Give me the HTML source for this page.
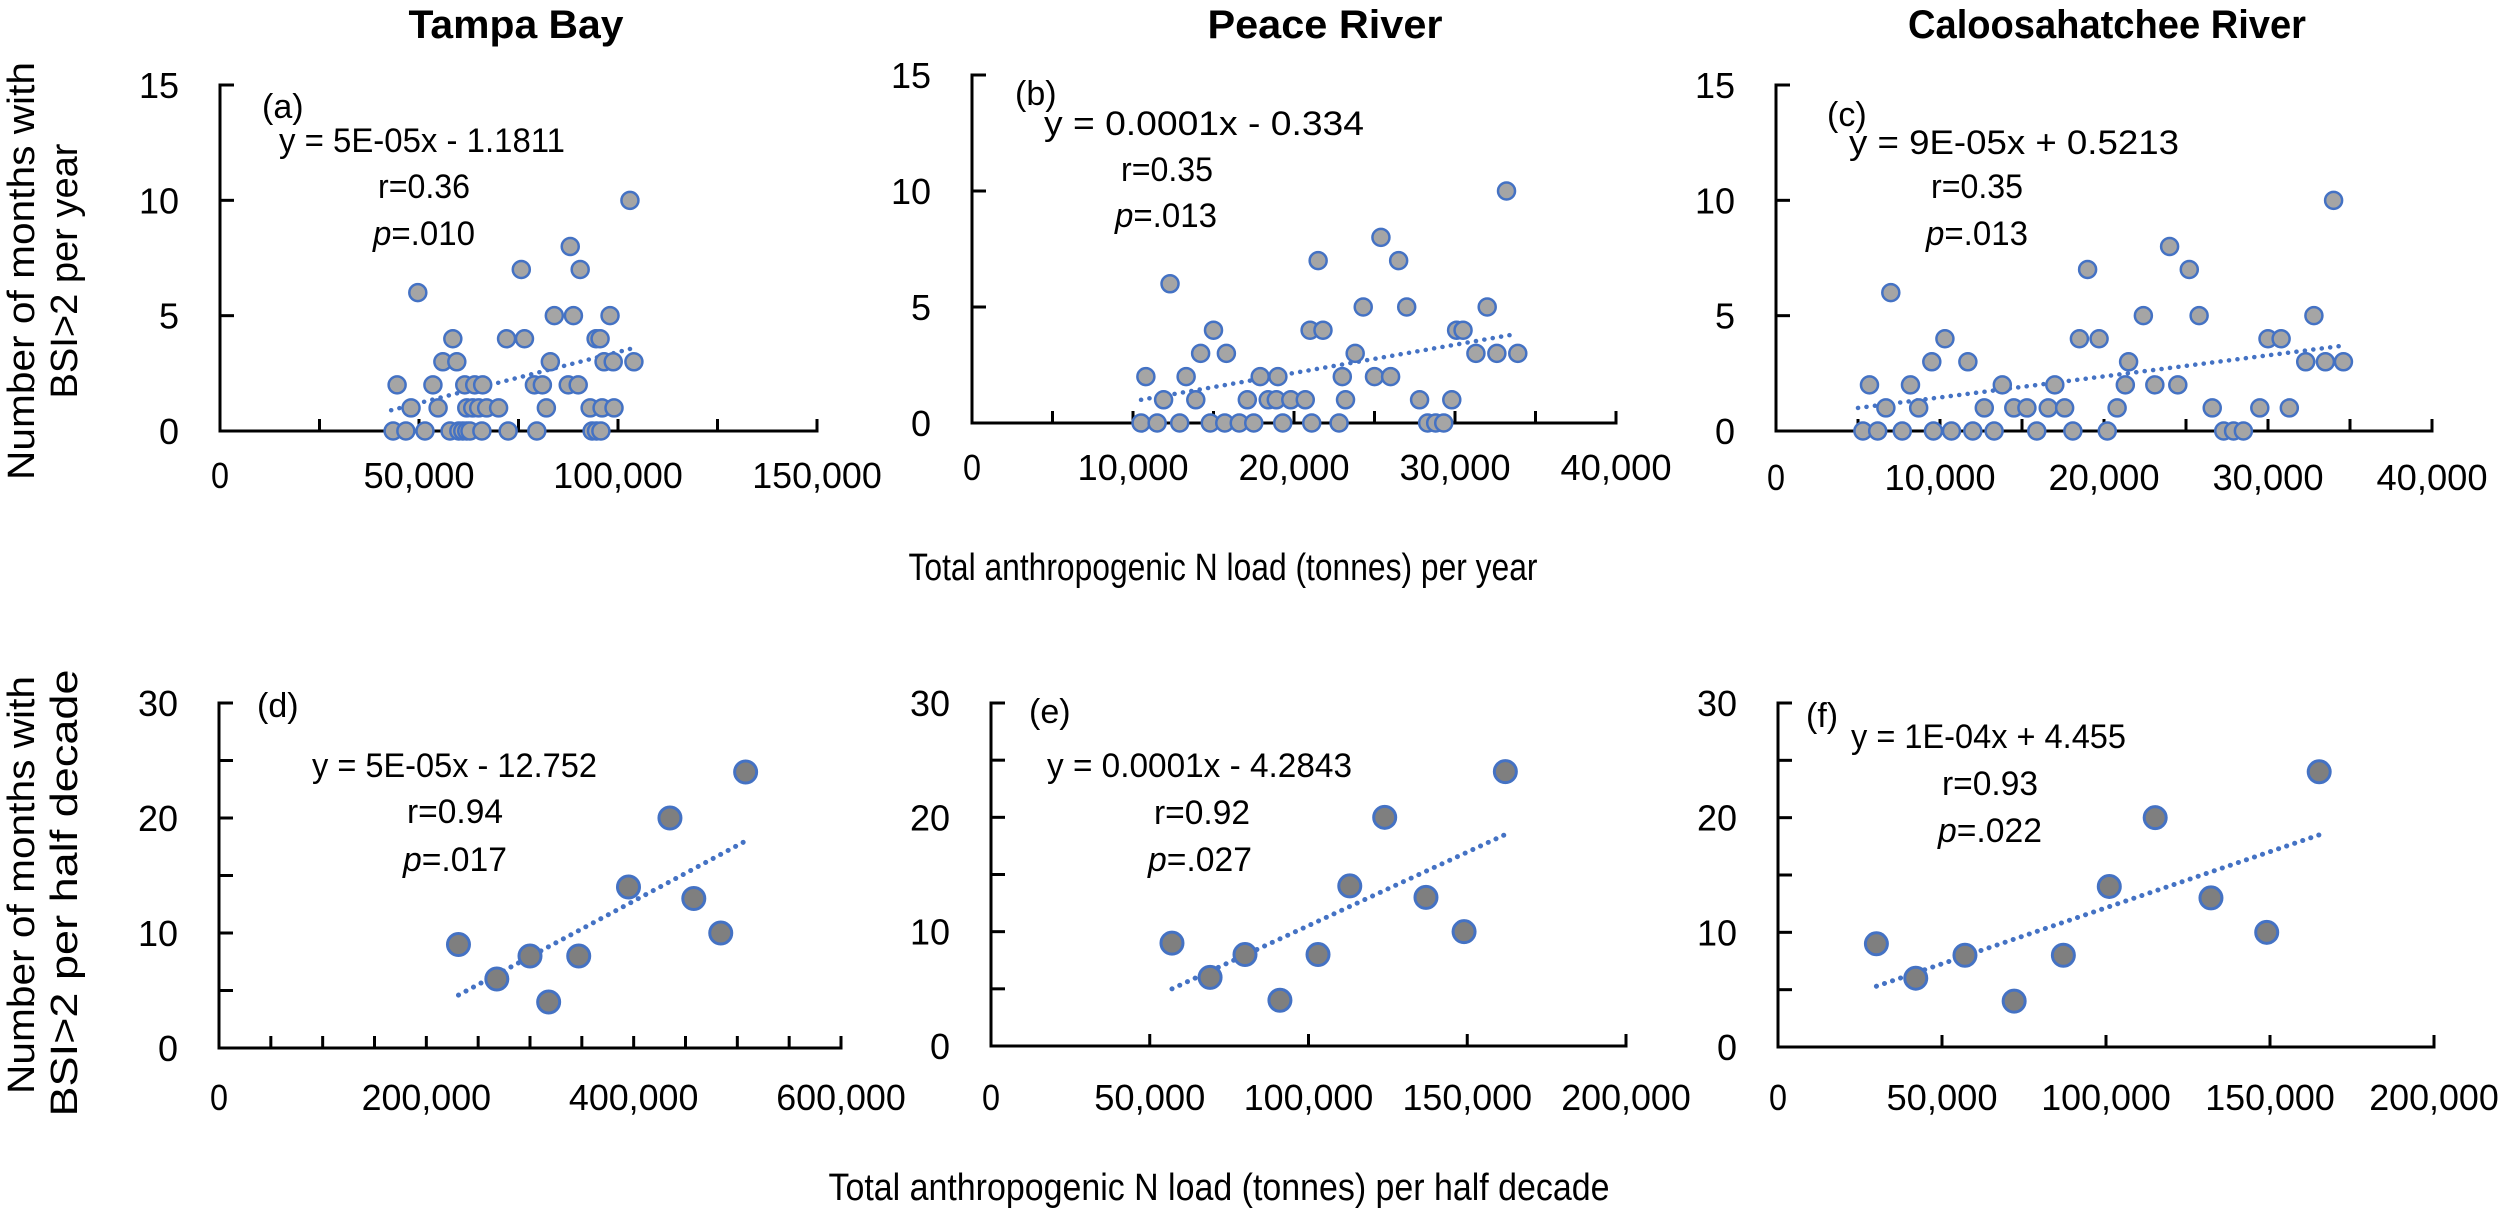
<!DOCTYPE html>
<html><head><meta charset="utf-8"><style>
html,body{margin:0;padding:0;background:#fff;}
svg{display:block;}
text{font-family:"Liberation Sans",sans-serif;fill:#000;}
</style></head><body>
<svg id="s" width="2500" height="1208" viewBox="0 0 2500 1208" xmlns="http://www.w3.org/2000/svg">
<rect width="2500" height="1208" fill="#fff"/>
<text x="516" y="38" font-size="40" font-weight="bold" text-anchor="middle" textLength="215" lengthAdjust="spacingAndGlyphs">Tampa Bay</text>
<text x="1325" y="38" font-size="40" font-weight="bold" text-anchor="middle" textLength="235" lengthAdjust="spacingAndGlyphs">Peace River</text>
<text x="2107" y="38" font-size="40" font-weight="bold" text-anchor="middle" textLength="398" lengthAdjust="spacingAndGlyphs">Caloosahatchee River</text>

<text transform="translate(34,271) rotate(-90)" font-size="38" text-anchor="middle" textLength="418" lengthAdjust="spacingAndGlyphs">Number of months with</text>
<text transform="translate(77,271) rotate(-90)" font-size="38" text-anchor="middle" textLength="255" lengthAdjust="spacingAndGlyphs">BSI&gt;2 per year</text>
<text transform="translate(34,885) rotate(-90)" font-size="38" text-anchor="middle" textLength="418" lengthAdjust="spacingAndGlyphs">Number of months with</text>
<text transform="translate(77,893) rotate(-90)" font-size="38" text-anchor="middle" textLength="447" lengthAdjust="spacingAndGlyphs">BSI&gt;2 per half decade</text>

<text x="1223" y="580" font-size="38" text-anchor="middle" textLength="629" lengthAdjust="spacingAndGlyphs">Total anthropogenic N load (tonnes) per year</text>
<text x="1219" y="1200" font-size="38" text-anchor="middle" textLength="781" lengthAdjust="spacingAndGlyphs">Total anthropogenic N load (tonnes) per half decade</text>

<g font-size="34">
<text x="262" y="118">(a)</text>
<text x="279" y="152" textLength="286" lengthAdjust="spacingAndGlyphs">y = 5E-05x - 1.1811</text>
<text x="424" y="198" text-anchor="middle" textLength="92" lengthAdjust="spacingAndGlyphs">r=0.36</text>
<text x="424" y="245" text-anchor="middle" textLength="102" lengthAdjust="spacingAndGlyphs"><tspan font-style="italic">p</tspan>=.010</text>

<text x="1015" y="105">(b)</text>
<text x="1044" y="135" textLength="320" lengthAdjust="spacingAndGlyphs">y = 0.0001x - 0.334</text>
<text x="1167" y="181" text-anchor="middle" textLength="92" lengthAdjust="spacingAndGlyphs">r=0.35</text>
<text x="1166" y="227" text-anchor="middle" textLength="102" lengthAdjust="spacingAndGlyphs"><tspan font-style="italic">p</tspan>=.013</text>

<text x="1827" y="126">(c)</text>
<text x="1849" y="154" textLength="330" lengthAdjust="spacingAndGlyphs">y = 9E-05x + 0.5213</text>
<text x="1977" y="198" text-anchor="middle" textLength="92" lengthAdjust="spacingAndGlyphs">r=0.35</text>
<text x="1977" y="245" text-anchor="middle" textLength="102" lengthAdjust="spacingAndGlyphs"><tspan font-style="italic">p</tspan>=.013</text>

<text x="257" y="717">(d)</text>
<text x="312" y="777" textLength="285" lengthAdjust="spacingAndGlyphs">y = 5E-05x - 12.752</text>
<text x="455" y="823" text-anchor="middle" textLength="96" lengthAdjust="spacingAndGlyphs">r=0.94</text>
<text x="455" y="871" text-anchor="middle" textLength="104" lengthAdjust="spacingAndGlyphs"><tspan font-style="italic">p</tspan>=.017</text>

<text x="1029" y="723">(e)</text>
<text x="1047" y="777" textLength="305" lengthAdjust="spacingAndGlyphs">y = 0.0001x - 4.2843</text>
<text x="1202" y="824" text-anchor="middle" textLength="96" lengthAdjust="spacingAndGlyphs">r=0.92</text>
<text x="1200" y="871" text-anchor="middle" textLength="104" lengthAdjust="spacingAndGlyphs"><tspan font-style="italic">p</tspan>=.027</text>

<text x="1806" y="727">(f)</text>
<text x="1851" y="748" textLength="275" lengthAdjust="spacingAndGlyphs">y = 1E-04x + 4.455</text>
<text x="1990" y="795" text-anchor="middle" textLength="96" lengthAdjust="spacingAndGlyphs">r=0.93</text>
<text x="1990" y="842" text-anchor="middle" textLength="104" lengthAdjust="spacingAndGlyphs"><tspan font-style="italic">p</tspan>=.022</text>
</g>
<g id="plots"></g>
</svg>
<script>
(function(){
var NS="http://www.w3.org/2000/svg";
var g=document.getElementById("plots");
function el(t,a,txt){var e=document.createElementNS(NS,t);for(var k in a)e.setAttribute(k,a[k]);if(txt!==undefined)e.textContent=txt;g.appendChild(e);return e;}
function fmt(v){return v.toString().replace(/\B(?=(\d{3})+(?!\d))/g,",");}
function panel(c){
  var sx=function(v){return c.ax+(v/c.xmax)*(c.xend-c.ax);};
  var sy=function(v){return c.y0-(v/c.ymax)*(c.y0-c.ytop);};
  el("line",{x1:sx(c.tr[0]),y1:sy(c.tr[1]),x2:sx(c.tr[2]),y2:sy(c.tr[3]),stroke:"#4472c4","stroke-width":c.big?5:4.5,"stroke-dasharray":"0.1 8.4","stroke-linecap":"round"});
  el("path",{d:"M"+(c.ax+14)+" "+c.ytop+" H"+c.ax+" V"+c.y0+" H"+c.xend+" V"+(c.y0-12),fill:"none",stroke:"#000","stroke-width":3});
  for(var v=c.ystep;v<c.ymax;v+=c.ystep){var y=sy(v);el("line",{x1:c.ax,y1:y,x2:c.ax+14,y2:y,stroke:"#000","stroke-width":3});}
  for(var v=0;v<=c.ymax+1e-9;v+=c.ylab){el("text",{x:c.ax-41,y:sy(v)+13,"font-size":36,"text-anchor":"end"},String(v));}
  for(var v=c.xstep;v<c.xmax;v+=c.xstep){var x=sx(v);el("line",{x1:x,y1:c.y0,x2:x,y2:c.y0-12,stroke:"#000","stroke-width":3});}
  for(var v=0;v<=c.xmax+1e-9;v+=c.xlab){var s=fmt(v);el("text",{x:sx(v),y:c.xly,"font-size":36,"text-anchor":"middle",textLength:s.length>1?(s.length*18.5):18,lengthAdjust:"spacingAndGlyphs"},s);}
  c.pts.forEach(function(p){el("circle",{cx:sx(p[0]*1000),cy:sy(p[1]),r:c.big?11:8.5,fill:c.big?"#7f7f7f":"#a5a5a5",stroke:"#4472c4","stroke-width":c.big?3:2.5});});
}
function rows(r0,r1){var o=[];r0.forEach(function(x){o.push([x,0]);});r1.forEach(function(x){o.push([x,1]);});return o;}
var A=rows([43.5,46.7,51.5,57.8,60,61,62,62.8,65.8,72.4,79.6,93.5,94.6,95.7],[48,54.8,62,63.5,65,67,70,82,93,96,99]).concat([[44.5,2],[49.7,6],[53.5,2],[56,3],[58.5,4],[59.5,3],[61.5,2],[64,2],[66,2],[72,4],[75.7,7],[76.5,4],[79,2],[81,2],[83,3],[84,5],[88,8],[90.5,7],[87.5,2],[88.8,5],[90,2],[94.5,4],[95.5,4],[96.5,3],[98,5],[98.8,3],[103,10],[104,3]]);
panel({ax:220,y0:431,ytop:85,ymax:15,ystep:5,ylab:5,xmax:150000,xend:817,xstep:25000,xlab:50000,xly:488,tr:[43000,0.9,104000,3.6],pts:A});
var B=rows([10.5,11.5,12.9,14.8,15.7,16.6,17.5,19.3,21.1,22.8,28.3,28.8,29.3],[11.9,13.9,17.1,18.4,18.9,19.8,20.7,23.2,27.8,29.8]).concat([[10.8,2],[12.3,6],[13.3,2],[14.2,3],[15,4],[15.8,3],[17.9,2],[19,2],[21.5,7],[21,4],[21.8,4],[23,2],[23.8,3],[24.3,5],[25,2],[25.4,8],[26,2],[26.5,7],[27,5],[30.1,4],[30.5,4],[31.3,3],[32,5],[32.6,3],[33.2,10],[33.9,3]]);
panel({ax:972,y0:423,ytop:75,ymax:15,ystep:5,ylab:5,xmax:40000,xend:1616,xstep:5000,xlab:10000,xly:480,tr:[10500,1.0,33500,3.8],pts:B});
var C=rows([5.3,6.2,7.7,9.6,10.7,12,13.3,15.9,18.1,20.2,27.3,27.9,28.5],[6.7,8.7,12.7,14.5,15.3,16.6,17.6,20.8,26.6]).concat([[5.7,2],[8.2,2],[13.8,2],[17,2],[21.3,2],[23.1,2],[24.5,2],[7,6],[9.5,3],[10.3,4],[11.7,3],[18.5,4],[19,7],[19.7,4],[21.5,3],[22.4,5],[24,8],[25.2,7],[25.8,5],[29.5,1],[30,4],[30.8,4],[31.3,1],[32.3,3],[32.8,5],[33.5,3],[34,10],[34.6,3]]);
panel({ax:1776,y0:431,ytop:85,ymax:15,ystep:5,ylab:5,xmax:40000,xend:2432,xstep:5000,xlab:10000,xly:490,tr:[5000,1.0,34600,3.7],pts:C});
var D=[[231,9],[268,6],[300,8],[318,4],[347,8],[395,14],[435,20],[458,13],[484,10],[508,24]];
panel({big:1,ax:219,y0:1048,ytop:703,ymax:30,ystep:5,ylab:10,xmax:600000,xend:841,xstep:50000,xlab:200000,xly:1110,tr:[231000,4.6,508000,18],pts:D});
var E=[[57,9],[69,6],[80,8],[91,4],[103,8],[113,14],[124,20],[137,13],[149,10],[162,24]];
panel({big:1,ax:991,y0:1046,ytop:703,ymax:30,ystep:5,ylab:10,xmax:200000,xend:1626,xstep:50000,xlab:50000,xly:1110,tr:[57000,5,162000,18.5],pts:E});
var F=[[30,9],[42,6],[57,8],[72,4],[87,8],[101,14],[115,20],[132,13],[149,10],[165,24]];
panel({big:1,ax:1778,y0:1047,ytop:703,ymax:30,ystep:5,ylab:10,xmax:200000,xend:2434,xstep:50000,xlab:50000,xly:1110,tr:[30000,5.3,165000,18.5],pts:F});
})();
</script>
</body></html>
